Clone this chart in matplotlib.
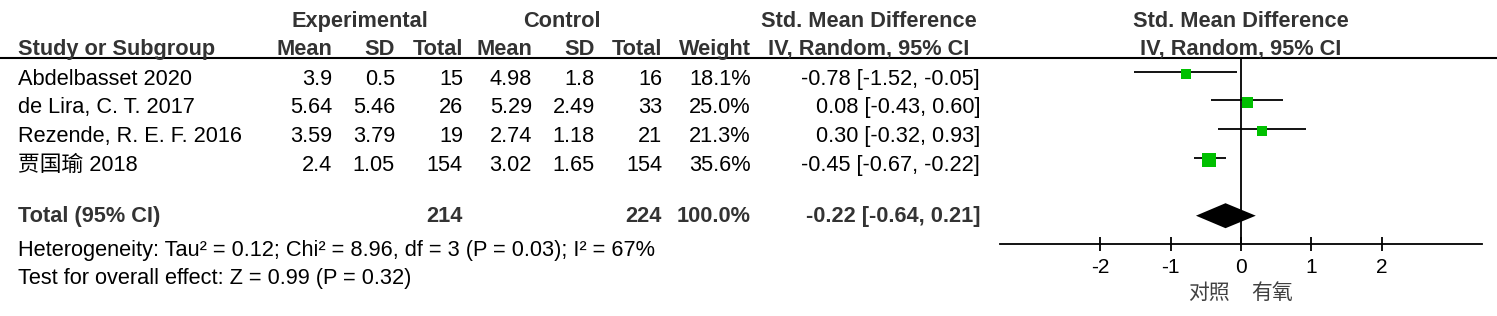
import numpy as np
import matplotlib
matplotlib.use("Agg")
import matplotlib.pyplot as plt

plt.rcParams['font.family'] = ['Liberation Sans', 'Noto Sans CJK SC', 'DejaVu Sans']
plt.rcParams['axes.unicode_minus'] = False

# data
studies = ["Abdelbasset 2020", "de Lira, C. T. 2017", "Rezende, R. E. F. 2016", "贾国瑜 2018"]
exp_mean = ["3.9", "5.64", "3.59", "2.4"]
exp_sd = ["0.5", "5.46", "3.79", "1.05"]
exp_n = [15, 26, 19, 154]
ctl_mean = ["4.98", "5.29", "2.74", "3.02"]
ctl_sd = ["1.8", "2.49", "1.18", "1.65"]
ctl_n = [16, 33, 21, 154]
weight = [18.1, 25.0, 21.3, 35.6]
smd = [-0.78, 0.08, 0.30, -0.45]
ci_lo = [-1.52, -0.43, -0.32, -0.67]
ci_hi = [-0.05, 0.60, 0.93, -0.22]

total_smd = -0.22
total_lo = -0.64
total_hi = 0.21
heterogeneity = "Heterogeneity: Tau² = 0.12; Chi² = 8.96, df = 3 (P = 0.03); I² = 67%"
overall = "Test for overall effect: Z = 0.99 (P = 0.32)"
xticks = [-2, -1, 0, 1, 2]
favours = ["对照", "有氧"]

W, H = 1497, 316
fig = plt.figure(figsize=(W / 100, H / 100), dpi=100)

# text layer in pixel coordinates
tx = fig.add_axes([0, 0, 1, 1])
tx.set_xlim(0, W)
tx.set_ylim(H, 0)
tx.axis("off")

fs = 15.7
hdr = dict(fontsize=fs, fontweight="bold", color="#333333", va="baseline")
reg = dict(fontsize=fs, color="black", va="baseline")

# column right edges
c_em, c_es, c_en = 332, 395, 463
c_cm, c_cs, c_cn = 532, 595, 662
c_w, c_ci = 751, 980

tx.text(360, 27, "Experimental", ha="center", **hdr)
tx.text(562, 27, "Control", ha="center", **hdr)
tx.text(869, 27, "Std. Mean Difference", ha="center", **hdr)
tx.text(18, 55, "Study or Subgroup", ha="left", **hdr)
for x, s in [(c_em, "Mean"), (c_es, "SD"), (c_en, "Total"), (c_cm, "Mean"),
             (c_cs, "SD"), (c_cn, "Total"), (c_w, "Weight")]:
    tx.text(x, 55, s, ha="right", **hdr)
tx.text(869, 55, "IV, Random, 95% CI", ha="center", **hdr)
tx.axhline(57.7, color="black", lw=1.5)

row_y = [72, 100, 129, 158]
for i, y in enumerate(row_y):
    b = y + 13
    tx.text(18, b, studies[i], ha="left", **reg)
    tx.text(c_em, b, exp_mean[i], ha="right", **reg)
    tx.text(c_es, b, exp_sd[i], ha="right", **reg)
    tx.text(c_en, b, str(exp_n[i]), ha="right", **reg)
    tx.text(c_cm, b, ctl_mean[i], ha="right", **reg)
    tx.text(c_cs, b, ctl_sd[i], ha="right", **reg)
    tx.text(c_cn, b, str(ctl_n[i]), ha="right", **reg)
    tx.text(c_w, b, f"{weight[i]:.1f}%", ha="right", **reg)
    tx.text(c_ci, b, f"{smd[i]:.2f} [{ci_lo[i]:.2f}, {ci_hi[i]:.2f}]", ha="right", **reg)

tot_y = 215.7
tb = tot_y + 6
tx.text(18, tb, "Total (95% CI)", ha="left", **hdr)
tx.text(c_en, tb, str(sum(exp_n)), ha="right", **hdr)
tx.text(c_cn, tb, str(sum(ctl_n)), ha="right", **hdr)
tx.text(c_w, tb, f"{sum(weight):.1f}%", ha="right", **hdr)
tx.text(c_ci, tb, f"{total_smd:.2f} [{total_lo:.2f}, {total_hi:.2f}]", ha="right", **hdr)
tx.text(18, 256, heterogeneity, ha="left", **reg)
tx.text(18, 284, overall, ha="left", **reg)

tx.text(1241, 27, "Std. Mean Difference", ha="center", **hdr)
tx.text(1241, 55, "IV, Random, 95% CI", ha="center", **hdr)

# forest panel: x in effect units, y in pixels
x0, x1 = 1000, 1482
ax = fig.add_axes([x0 / W, 0, (x1 - x0) / W, 1])
ax.set_xlim(-3.423, 3.423)
ax.set_ylim(H, 0)
ax.patch.set_visible(False)
for sp in ["top", "left", "right"]:
    ax.spines[sp].set_visible(False)
axis_y = 244
ax.spines["bottom"].set_position(("data", axis_y))
ax.spines["bottom"].set_linewidth(1.3)
ax.set_yticks([])
ax.set_xticks(xticks)
ax.set_xticklabels([str(t) for t in xticks])
ax.tick_params(axis="x", direction="inout", length=10, width=1.3, labelsize=15, pad=5)

ax.vlines(0, 57.7, axis_y, color="black", lw=1.3)
for i, y in enumerate(row_y):
    ax.hlines(y, ci_lo[i], ci_hi[i], color="black", lw=1.3)
    side = (4 + 0.28 * weight[i]) * 0.72
    ax.plot(smd[i], y + 2, marker="s", ms=side, color="#00c000", mec="#00c000", mew=0)

hh = 12.5
ax.fill([total_lo, total_smd, total_hi, total_smd], [tot_y, tot_y - hh, tot_y, tot_y + hh],
        color="black", lw=0)

tx.text(1230, 293, favours[0], ha="right", va="center", fontsize=15, color="#404040",
        family=["Noto Sans CJK SC"])
tx.text(1251, 293, favours[1], ha="left", va="center", fontsize=15, color="#404040",
        family=["Noto Sans CJK SC"])

fig.savefig("out.png", dpi=100)
